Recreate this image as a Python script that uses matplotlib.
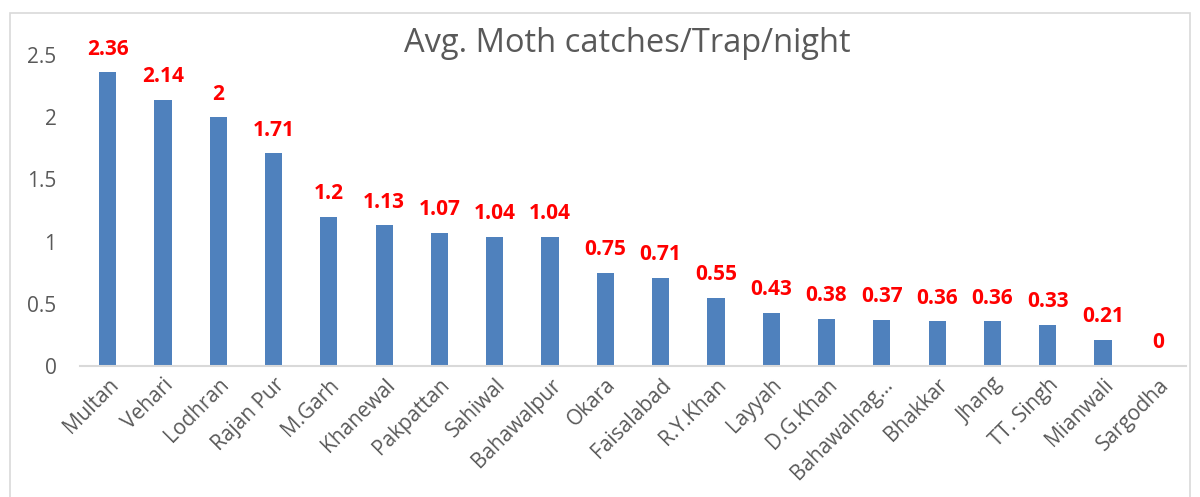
import matplotlib.pyplot as plt
from matplotlib.patches import Rectangle

# Data
districts = ["Multan", "Vehari", "Lodhran", "Rajan Pur", "M.Garh", "Khanewal",
             "Pakpattan", "Sahiwal", "Bahawalpur", "Okara", "Faisalabad",
             "R.Y.Khan", "Layyah", "D.G.Khan", "Bahawalnag…", "Bhakkar",
             "Jhang", "TT. Singh", "Mianwali", "Sargodha"]
catches = [2.36, 2.14, 2, 1.71, 1.2, 1.13, 1.07, 1.04, 1.04, 0.75, 0.71,
           0.55, 0.43, 0.38, 0.37, 0.36, 0.36, 0.33, 0.21, 0]
labels = ["2.36", "2.14", "2", "1.71", "1.2", "1.13", "1.07", "1.04", "1.04",
          "0.75", "0.71", "0.55", "0.43", "0.38", "0.37", "0.36", "0.36",
          "0.33", "0.21", "0"]
yticks = [0, 0.5, 1, 1.5, 2, 2.5]

plt.rcParams['font.family'] = ['Open Sans', 'DejaVu Sans']
gray = "#595959"

fig = plt.figure(figsize=(12, 4.97), dpi=100)
ax = fig.add_axes([0.0667, 0.2636, 0.9216, 0.6257])

x = range(len(districts))
ax.bar(x, catches, width=0.31, color="#4F81BD")

# Data labels
for i, (v, s) in enumerate(zip(catches, labels)):
    ax.annotate(s, (i, v), xytext=(0, 9), textcoords="offset points",
                ha="center", va="bottom", color="red", fontsize=15,
                fontweight="bold", annotation_clip=False)

ax.set_xlim(-0.5, len(districts) - 0.5)
ax.set_ylim(0, 2.5)
ax.set_yticks(yticks)
ax.set_yticklabels([f"{t:g}" for t in yticks])
ax.set_xticks(list(x))
ax.set_xticklabels(districts, rotation=45, ha="right", rotation_mode="anchor")
ax.tick_params(axis="both", length=0, colors=gray, labelsize=15)
ax.tick_params(axis="y", pad=17)
ax.tick_params(axis="x", pad=6)

for side in ["top", "right", "left"]:
    ax.spines[side].set_visible(False)
ax.spines["bottom"].set_color("#D9D9D9")
ax.spines["bottom"].set_linewidth(1.5)

fig.text(0.523, 0.912, "Avg. Moth catches/Trap/night", ha="center",
         va="center", fontsize=23.5, color=gray)

# chart border
fig.patches.append(Rectangle((10 / 1200, -0.1), 1180 / 1200, 1.1 - 13 / 497,
                             transform=fig.transFigure, fill=False,
                             edgecolor="#D9D9D9", linewidth=1.2))

fig.savefig("out.png", dpi=100)
